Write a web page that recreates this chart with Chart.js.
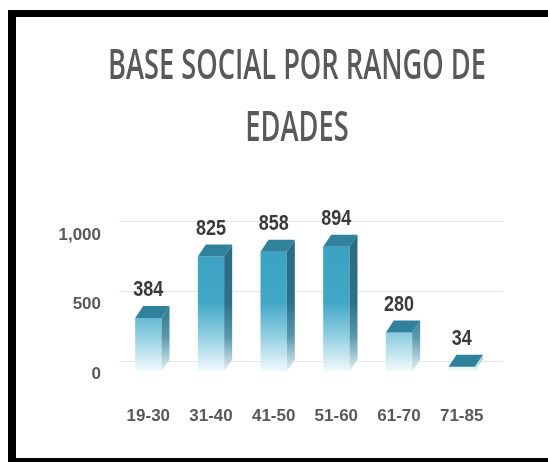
<!DOCTYPE html>
<html><head><meta charset="utf-8">
<script src="https://cdn.jsdelivr.net/npm/chart.js@4.4.1/dist/chart.umd.min.js"></script>
<style>
html,body{margin:0;padding:0;background:#fff;}
#wrap{position:relative;width:548px;height:462px;overflow:hidden;background:#fff;}
#frame{position:absolute;left:8px;top:10px;width:600px;height:441px;border-left:8px solid #000;border-top:7px solid #000;border-bottom:4px solid #000;pointer-events:none;}
canvas{position:absolute;left:0;top:0;}
</style></head><body>
<div id="wrap"><canvas id="c" width="548" height="462"></canvas><div id="frame"></div></div>
<script>
const titleLines = ['BASE SOCIAL POR RANGO DE', 'EDADES'];
const categories = ['19-30', '31-40', '41-50', '51-60', '61-70', '71-85'];
const members = [384, 825, 858, 894, 280, 34];
const yTicks = [0, 500, 1000];

const SANS = '"Liberation Sans", Arial, sans-serif';
const TITLE_FONT = '"Open Sans", "Liberation Sans", sans-serif';
const DEPTH_X = 8, DEPTH_Y = -12;

function frontGradient(chart) {
  const y = chart.scales.y;
  const g = chart.ctx.createLinearGradient(0, y.getPixelForValue(0), 0, y.getPixelForValue(1000));
  g.addColorStop(0, '#f4fafc');
  g.addColorStop(0.25, '#92d0e2');
  g.addColorStop(0.5, '#40a7c7');
  g.addColorStop(1, '#3aa1c2');
  return g;
}
function sideGradient(chart) {
  const y = chart.scales.y;
  const g = chart.ctx.createLinearGradient(0, y.getPixelForValue(0), 0, y.getPixelForValue(1000));
  g.addColorStop(0, '#e6f2f6');
  g.addColorStop(0.25, '#5a98ad');
  g.addColorStop(0.5, '#2c7189');
  g.addColorStop(1, '#296b83');
  return g;
}

const backGrid = {
  id: 'backGrid',
  beforeDatasetsDraw(chart) {
    const { ctx, chartArea: ca, scales: { y } } = chart;
    ctx.save();
    ctx.strokeStyle = '#e6e6e6';
    ctx.lineWidth = 1;
    yTicks.forEach(v => {
      const py = Math.round(y.getPixelForValue(v) + DEPTH_Y + 1) + 0.5;
      ctx.beginPath();
      ctx.moveTo(ca.left + 2, py);
      ctx.lineTo(ca.right + 10, py);
      ctx.stroke();
    });
    ctx.restore();
  }
};

const bar3d = {
  id: 'bar3d',
  afterDatasetsDraw(chart) {
    const { ctx } = chart;
    const meta = chart.getDatasetMeta(0);
    ctx.save();
    meta.data.forEach((el, i) => {
      const p = el.getProps(['x', 'y', 'base', 'width'], true);
      const l = p.x - p.width / 2, r = p.x + p.width / 2;
      ctx.fillStyle = sideGradient(chart);
      ctx.beginPath();
      ctx.moveTo(r, p.y);
      ctx.lineTo(r + DEPTH_X, p.y + DEPTH_Y);
      ctx.lineTo(r + DEPTH_X, p.base + DEPTH_Y);
      ctx.lineTo(r, p.base);
      ctx.closePath();
      ctx.fill();
      ctx.fillStyle = '#2f819c';
      ctx.beginPath();
      ctx.moveTo(l, p.y);
      ctx.lineTo(l + DEPTH_X, p.y + DEPTH_Y);
      ctx.lineTo(r + DEPTH_X, p.y + DEPTH_Y);
      ctx.lineTo(r, p.y);
      ctx.closePath();
      ctx.fill();
      ctx.save();
      ctx.font = 'bold 18px ' + SANS;
      ctx.fillStyle = '#3a3a3a';
      ctx.textAlign = 'center';
      ctx.textBaseline = 'middle';
      ctx.translate(p.x, p.y - 28);
      ctx.scale(1, 1.25);
      ctx.fillText(String(members[i]), 0, 0);
      ctx.restore();
    });
    ctx.restore();
  }
};

const stretchedTitle = {
  id: 'stretchedTitle',
  afterDraw(chart) {
    const { ctx } = chart;
    ctx.save();
    ctx.font = '600 32px ' + TITLE_FONT;
    ctx.fillStyle = '#595959';
    ctx.textAlign = 'center';
    ctx.textBaseline = 'middle';
    const sx = 378 / ctx.measureText(titleLines[0]).width;
    const ys = [67, 129];
    titleLines.forEach((t, i) => {
      ctx.save();
      ctx.translate(297, ys[i]);
      ctx.scale(sx, 1.3);
      ctx.fillText(t, 0, 0);
      ctx.restore();
    });
    ctx.restore();
  }
};

new Chart(document.getElementById('c'), {
  type: 'bar',
  data: {
    labels: categories,
    datasets: [{
      data: members,
      backgroundColor: (c) => c.chart.chartArea ? frontGradient(c.chart) : '#3aa1c2',
      borderWidth: 0,
      categoryPercentage: 1,
      barPercentage: 0.42
    }]
  },
  options: {
    responsive: false,
    animation: false,
    locale: 'en-US',
    layout: { padding: { top: 232, bottom: 0, right: 55, left: 0 } },
    plugins: { legend: { display: false }, title: { display: false }, tooltip: { enabled: false } },
    scales: {
      x: {
        grid: { display: false, drawTicks: false },
        border: { display: false },
        ticks: { padding: 35, maxRotation: 0, minRotation: 0, autoSkip: false, color: '#595959', font: { family: SANS, size: 17, weight: 'bold' } }
      },
      y: {
        min: 0, max: 1000,
        afterFit(s) { s.width = 117; },
        grid: { display: false, drawTicks: false },
        border: { display: false },
        ticks: { stepSize: 500, padding: 16, labelOffset: 3, color: '#595959', font: { family: SANS, size: 17, weight: 'bold' } }
      }
    }
  },
  plugins: [backGrid, bar3d, stretchedTitle]
});
</script>
</body></html>
